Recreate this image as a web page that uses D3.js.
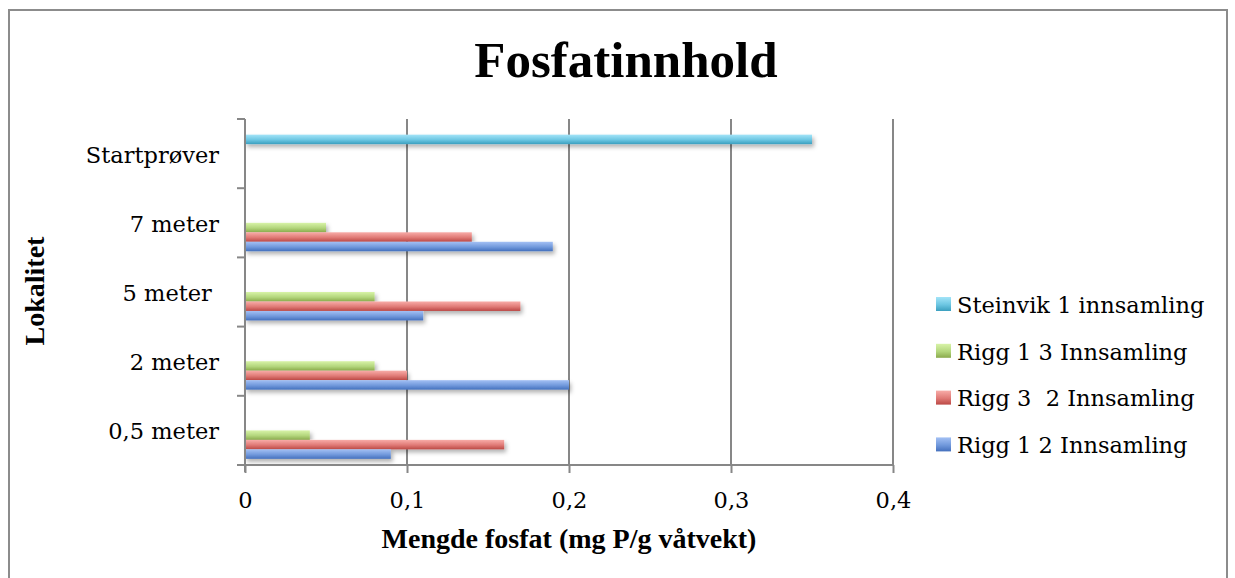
<!DOCTYPE html>
<html>
<head>
<meta charset="utf-8">
<script src="https://cdn.jsdelivr.net/npm/d3@7"></script>
<style>
  html, body { margin: 0; padding: 0; background: #fff; }
  svg { display: block; }
  text { white-space: pre; }
</style>
</head>
<body>
<svg id="chart" width="1235" height="578"></svg>
<script>
// Categories, listed top to bottom
const categories = ["Startprøver", "7 meter", "5 meter ", "2 meter", "0,5 meter"];

// Phosphate content (mg P/g wet weight) per category, same order as categories
const steinvik1 = [0.35, null, null, null, null];
const rigg13    = [null, 0.05, 0.08, 0.08, 0.04];
const rigg32    = [null, 0.14, 0.17, 0.10, 0.16];
const rigg12    = [null, 0.19, 0.11, 0.20, 0.09];

const seriesNames = ["Steinvik 1 innsamling", "Rigg 1 3 Innsamling", "Rigg 3  2 Innsamling", "Rigg 1 2 Innsamling"];
const seriesValues = [steinvik1, rigg13, rigg32, rigg12];

// Bar slots inside each category band, top to bottom (two slots stay empty)
const slots = ["tom A", "Steinvik 1 innsamling", "tom B", "Rigg 1 3 Innsamling", "Rigg 3  2 Innsamling", "Rigg 1 2 Innsamling"];

const xTicks = [0, 0.1, 0.2, 0.3, 0.4];

const palette = {
  "Steinvik 1 innsamling": ["#a3e4f8", "#6cc6e2", "#3b9fbf"],
  "Rigg 1 3 Innsamling":   ["#d8f3a8", "#b3d67c", "#8aaa4c"],
  "Rigg 3  2 Innsamling":  ["#f8aca8", "#e07a76", "#bb4845"],
  "Rigg 1 2 Innsamling":   ["#a3c0f4", "#7199dc", "#4470bd"]
};

const svg = d3.select("#chart");
const defs = svg.append("defs");

seriesNames.forEach((name, i) => {
  const [c0, c1, c2] = palette[name];
  const g = defs.append("linearGradient")
    .attr("id", "grad" + i)
    .attr("x1", 0).attr("y1", 0).attr("x2", 0).attr("y2", 1);
  g.append("stop").attr("offset", "0%").attr("stop-color", c0);
  g.append("stop").attr("offset", "55%").attr("stop-color", c1);
  g.append("stop").attr("offset", "100%").attr("stop-color", c2);
});

const shadow = defs.append("filter").attr("id", "shadow")
  .attr("x", "-5%").attr("y", "-50%").attr("width", "115%").attr("height", "250%");
shadow.append("feDropShadow")
  .attr("dx", 2).attr("dy", 3).attr("stdDeviation", 2.2)
  .attr("flood-color", "#000").attr("flood-opacity", 0.3);

// Outer frame
svg.append("rect")
  .attr("x", 9).attr("y", 10).attr("width", 1218).attr("height", 600)
  .attr("fill", "none").attr("stroke", "#8c8c8c").attr("stroke-width", 2);

const x = d3.scaleLinear().domain([0, 0.4]).range([245, 893]);
const y = d3.scaleBand().domain(categories).range([119, 465]).padding(0);
const ySub = d3.scaleBand().domain(slots).range([0, y.bandwidth()])
  .paddingInner(0).paddingOuter(0.65);

const gridColor = "#878787";

// Vertical gridlines
svg.append("g").selectAll("line")
  .data(xTicks.filter(d => d > 0))
  .join("line")
  .attr("x1", d => x(d)).attr("x2", d => x(d))
  .attr("y1", 119).attr("y2", 465)
  .attr("stroke", gridColor).attr("stroke-width", 2);

// Bars
const barData = [];
seriesNames.forEach((name, si) => {
  seriesValues[si].forEach((v, ci) => {
    if (v != null) barData.push({ name, si, cat: categories[ci], value: v });
  });
});

svg.append("g").attr("filter", "url(#shadow)")
  .selectAll("rect")
  .data(barData)
  .join("rect")
  .attr("x", x(0))
  .attr("y", d => y(d.cat) + ySub(d.name))
  .attr("width", d => x(d.value) - x(0))
  .attr("height", ySub.bandwidth())
  .attr("fill", d => `url(#grad${d.si})`);

// Category axis (ticks on band edges)
const yAxis = svg.append("g");
yAxis.append("line")
  .attr("x1", x(0)).attr("x2", x(0))
  .attr("y1", 119).attr("y2", 472)
  .attr("stroke", gridColor).attr("stroke-width", 2);
const edges = categories.map(c => y(c)).concat([y.range()[1]]);
yAxis.selectAll("line.tick")
  .data(edges)
  .join("line")
  .attr("class", "tick")
  .attr("x1", x(0) - 8).attr("x2", x(0))
  .attr("y1", d => d).attr("y2", d => d)
  .attr("stroke", gridColor).attr("stroke-width", 2);
yAxis.selectAll("text")
  .data(categories)
  .join("text")
  .attr("x", 219)
  .attr("y", d => y(d) + y.bandwidth() / 2 + 9)
  .attr("text-anchor", "end")
  .attr("font-family", "DejaVu Serif")
  .attr("font-size", 22.5)
  .attr("fill", "#000")
  .text(d => d);

// Value axis
const xAxis = svg.append("g").attr("transform", "translate(0,465)")
  .call(d3.axisBottom(x).tickValues(xTicks).tickSize(8)
    .tickFormat(d => d === 0 ? "0" : d3.format(".1f")(d).replace(".", ",")));
xAxis.select(".domain").attr("stroke", gridColor).attr("stroke-width", 2)
  .attr("d", `M${x(0) - 8},0H${x(0.4)}`);
xAxis.selectAll(".tick line").attr("stroke", gridColor).attr("stroke-width", 2);
xAxis.selectAll(".tick text")
  .attr("y", 43).attr("dy", null)
  .attr("font-family", "DejaVu Serif")
  .attr("font-size", 22.5)
  .attr("fill", "#000");

// Titles
svg.append("text")
  .attr("x", 626).attr("y", 77)
  .attr("text-anchor", "middle")
  .attr("font-family", "Liberation Serif")
  .attr("font-weight", "bold")
  .attr("font-size", 51)
  .text("Fosfatinnhold");

svg.append("text")
  .attr("x", 569).attr("y", 548)
  .attr("text-anchor", "middle")
  .attr("font-family", "Liberation Serif")
  .attr("font-weight", "bold")
  .attr("font-size", 28)
  .text("Mengde fosfat (mg P/g våtvekt)");

svg.append("text")
  .attr("transform", "translate(44,291) rotate(-90)")
  .attr("text-anchor", "middle")
  .attr("font-family", "Liberation Serif")
  .attr("font-weight", "bold")
  .attr("font-size", 28)
  .text("Lokalitet");

// Legend
const legend = svg.append("g").selectAll("g")
  .data(seriesNames)
  .join("g")
  .attr("transform", (d, i) => `translate(936,${297 + i * 46.8})`);
legend.append("rect")
  .attr("width", 15).attr("height", 14)
  .attr("fill", (d, i) => `url(#grad${i})`);
legend.append("text")
  .attr("x", 21).attr("y", 15.7)
  .attr("font-family", "DejaVu Serif")
  .attr("font-size", 22.5)
  .attr("fill", "#000")
  .text(d => d);
</script>
</body>
</html>
